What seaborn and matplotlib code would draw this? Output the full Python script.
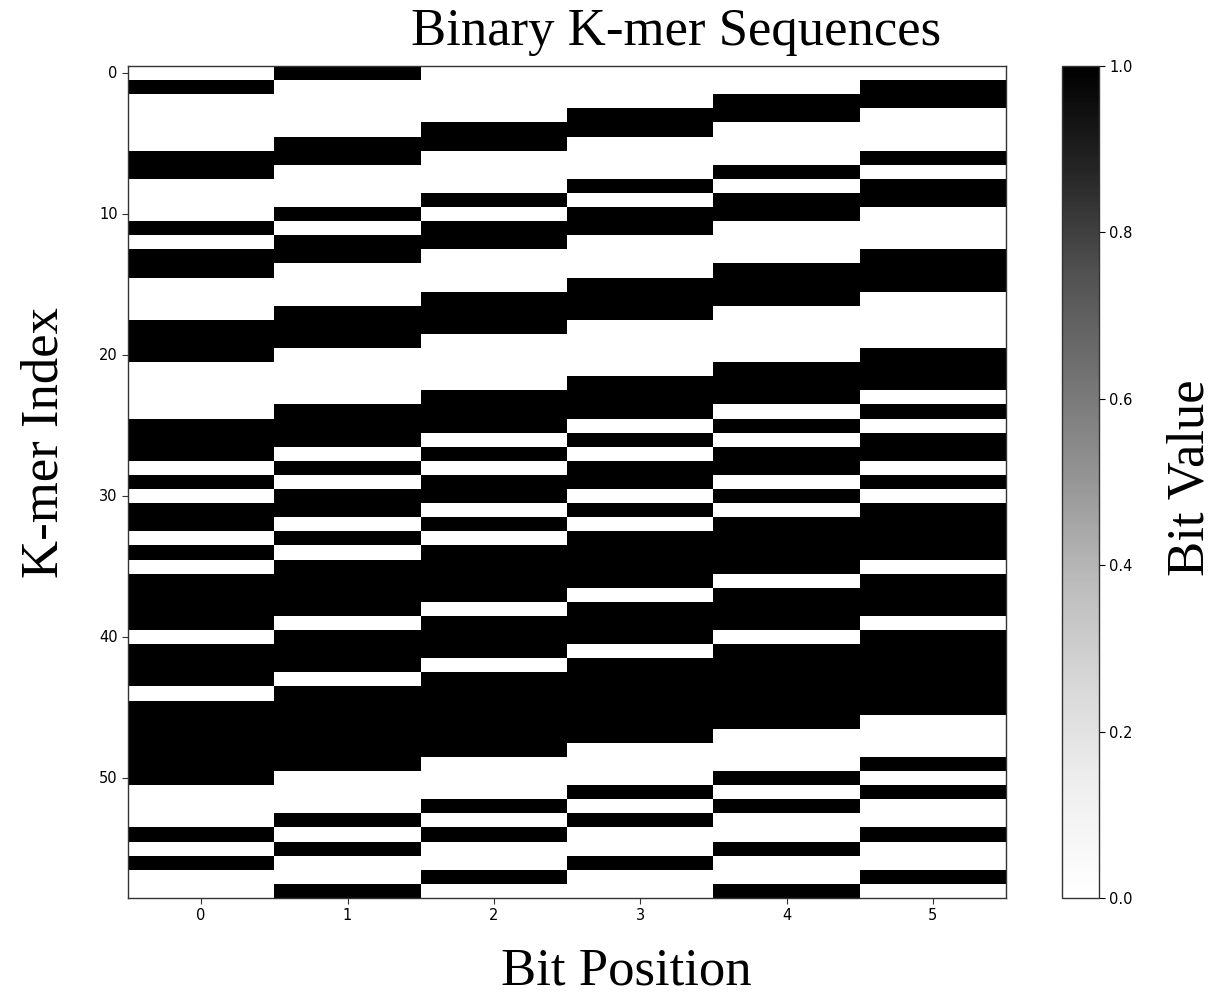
import numpy as np
import pandas as pd
import matplotlib
matplotlib.use("Agg")
import matplotlib.pyplot as plt
import seaborn as sns

# K-mer rows (bit strings)
kmers = [
    "010000", "100001", "000011", "000110", "001100", "011000", "110001", "100010",
    "000101", "001011", "010110", "101100", "011000", "110001", "100011", "000111",
    "001110", "011100", "111000", "110000", "100001", "000011", "000111", "001110",
    "011101", "111010", "110101", "101011", "010110", "101101", "011010", "110101",
    "101011", "010111", "101111", "011110", "111101", "111011", "110111", "101110",
    "011101", "111011", "110111", "101111", "011111", "111111", "111110", "111100",
    "111000", "110001", "100010", "000101", "001010", "010100", "101001", "010010",
    "100100", "001001", "010010",
]
bit_positions = [0, 1, 2, 3, 4, 5]
ytick_vals = [0, 10, 20, 30, 40, 50]
cbar_ticks = [0.0, 0.2, 0.4, 0.6, 0.8, 1.0]

matrix = np.array([[int(c) for c in k] for k in kmers], dtype=float)
df = pd.DataFrame(matrix, columns=bit_positions)

W, H = 1225, 997
fig = plt.figure(figsize=(W / 100, H / 100), dpi=100)
ax = fig.add_axes([128 / W, 1 - 898 / H, (1006 - 128) / W, (898 - 66) / H])
cax = fig.add_axes([1062 / W, 1 - 898 / H, 37 / W, (898 - 66) / H])

sns.heatmap(df, cmap="Greys", vmin=0, vmax=1, ax=ax, cbar_ax=cax,
            cbar_kws={"ticks": cbar_ticks})

ax.set_xticks([p + 0.5 for p in bit_positions])
ax.set_xticklabels([str(p) for p in bit_positions], rotation=0, fontsize=10.5)
ax.set_yticks([v + 0.5 for v in ytick_vals])
ax.set_yticklabels([str(v) for v in ytick_vals], rotation=0, fontsize=10.5)
ax.tick_params(length=4, width=0.8, color="#333333")
for sp in ax.spines.values():
    sp.set_visible(True)
    sp.set_linewidth(1.0)
    sp.set_color("#333333")
ax.set_xlabel("")
ax.set_ylabel("")

cax.set_yticklabels([f"{t:.1f}" for t in cbar_ticks], fontsize=10.5)
cax.tick_params(length=4, width=0.8)
cb = ax.collections[0].colorbar
cb.outline.set_linewidth(1.0)
cb.outline.set_edgecolor("#333333")

serif = ["Liberation Serif", "DejaVu Serif"]
fig.text(676 / W, 1 - 32 / H, "Binary K-mer Sequences", ha="center", va="center",
         fontsize=38, family=serif)
fig.text(626 / W, 1 - 971 / H, "Bit Position", ha="center", va="center",
         fontsize=38, family=serif)
fig.text(45 / W, 1 - 442 / H, "K-mer Index", ha="center", va="center",
         rotation=90, fontsize=38, family=serif)
fig.text(1190 / W, 1 - 478 / H, "Bit Value", ha="center", va="center",
         rotation=90, fontsize=38, family=serif)

fig.savefig("out.png", dpi=100)
